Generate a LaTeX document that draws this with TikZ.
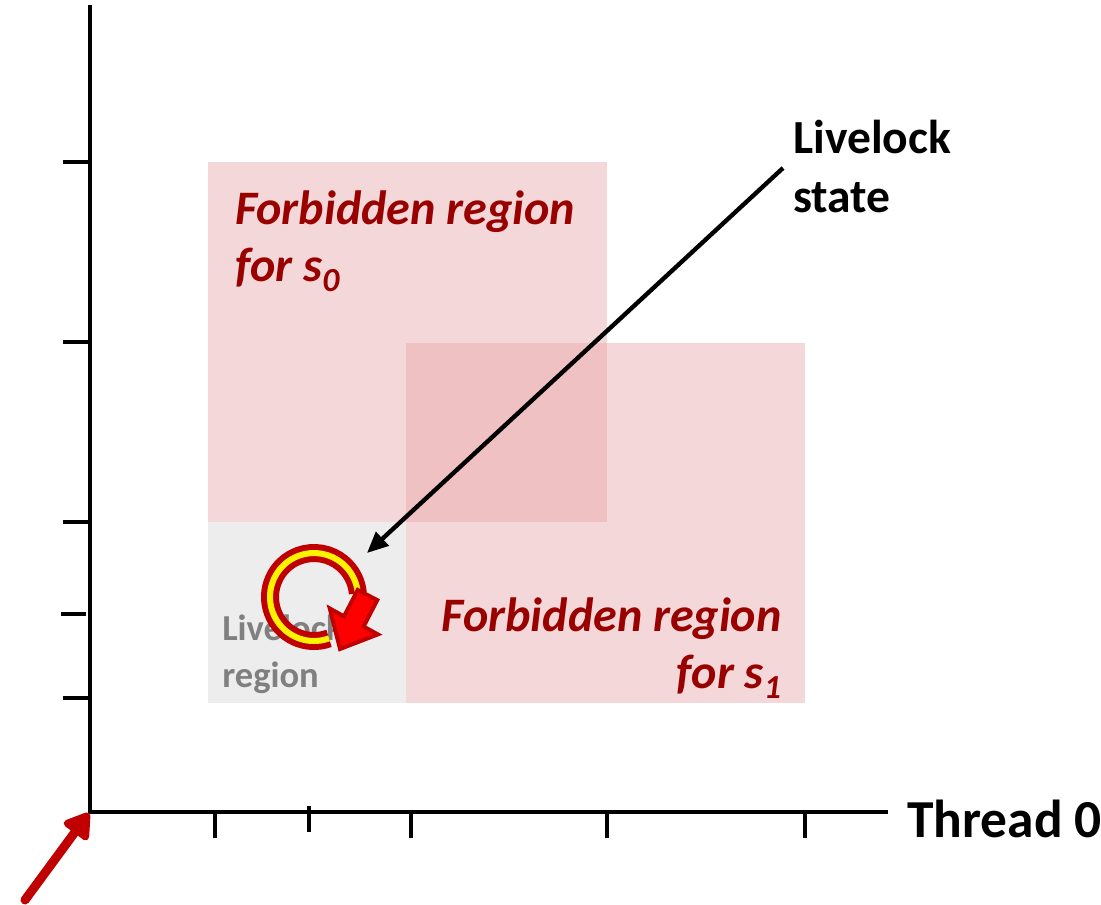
\documentclass[tikz,border=0pt]{standalone}
\usepackage{fontspec}
\setmainfont{Carlito}
\usetikzlibrary{
	arrows.meta,        %箭头
	positioning         %定位
}
\definecolor{forbid}{RGB}{244,215,216}
\definecolor{forbidboth}{RGB}{239,193,194}
\definecolor{lockgray}{RGB}{237,237,237}
\definecolor{darkred}{RGB}{153,0,0}
\definecolor{pptred}{RGB}{192,0,0}
\tikzset{
	every picture/.style={
		x=0.025cm,y=-0.025cm,
		>={Triangle[length=15pt,width=13pt]}
}}
\tikzset{
	axisline/.style={line width=2.2pt},
	tickmark/.style={line width=2.8pt},
	regionlabel/.style={text=darkred,inner sep=0pt,align=left,
		font=\fontsize{34.2}{41}\selectfont\bfseries\itshape},
	biglabel/.style={inner sep=0pt,align=left,
		font=\fontsize{33.8}{42}\selectfont\bfseries}
}

\begin{document}
\begin{tikzpicture}
\useasboundingbox (0,0) rectangle (1101,904);
% forbidden regions
\fill[forbid] (208,162) rectangle (607,522);
\fill[forbid] (406,343) rectangle (805,703);
\fill[forbidboth] (406,343) rectangle (607,522);
\fill[lockgray] (208,522) rectangle (406,703);
\node[regionlabel,anchor=north west] (fr0) at (235,190) {Forbidden region\\for s\textsubscript{0}};
\node[regionlabel,anchor=north east,align=right] (fr1) at (782,597) {Forbidden region\\for s\textsubscript{1}};
\node[inner sep=0pt,anchor=north west,align=left,text={rgb,255:red,128;green,128;blue,128},
	font=\fontsize{26}{33.4}\selectfont\bfseries] (lregion) at (222,615) {Livelock\\region};
% axes
\draw[axisline] (90,5) -- (90,812) -- (888,812);
\foreach \y in {162,342,522,698}
	\draw[tickmark] (63,\y) -- (90,\y);
\draw[tickmark] (61,614) -- (86,614);
\foreach \x in {215,411,607,805}
	\draw[tickmark] (\x,812) -- (\x,838);
\draw[tickmark] (309,806) -- (309,832);
\node[biglabel,anchor=base west,font=\fontsize{38}{42}\selectfont\bfseries] (thread0) at (907,837) {Thread 0};
% livelock state
\node[biglabel,anchor=north west] (lstate) at (793,120) {Livelock\\state};
\coordinate (lptr) at (783,168);
\coordinate (lockpt) at (367,553);
\draw[line width=3.1pt,->] (lptr) -- (lockpt);
% the loop
\coordinate (ringc) at (314,597);
\draw[pptred,line width=12.8pt] ([shift={(70:44)}]ringc) arc[start angle=70,end angle=355,radius=44];
\draw[yellow,line width=4.3pt] ([shift={(70:44)}]ringc) arc[start angle=70,end angle=355,radius=44];
\filldraw[fill=red,draw=pptred,line width=2.8pt] (357.7,589.9) -- (377.3,600.1) -- (363.6,626.5)
	-- (377.9,634.4) -- (340,649) -- (329.7,608.4) -- (344.0,616.3) -- cycle;
% start point
\coordinate (origin) at (89,813);
\coordinate (redtail) at (25,900);
\draw[pptred,line width=6.4pt,line cap=round,-{Triangle[round,length=20pt,width=24pt]}] (redtail) -- (origin);
\end{tikzpicture}
\end{document}
